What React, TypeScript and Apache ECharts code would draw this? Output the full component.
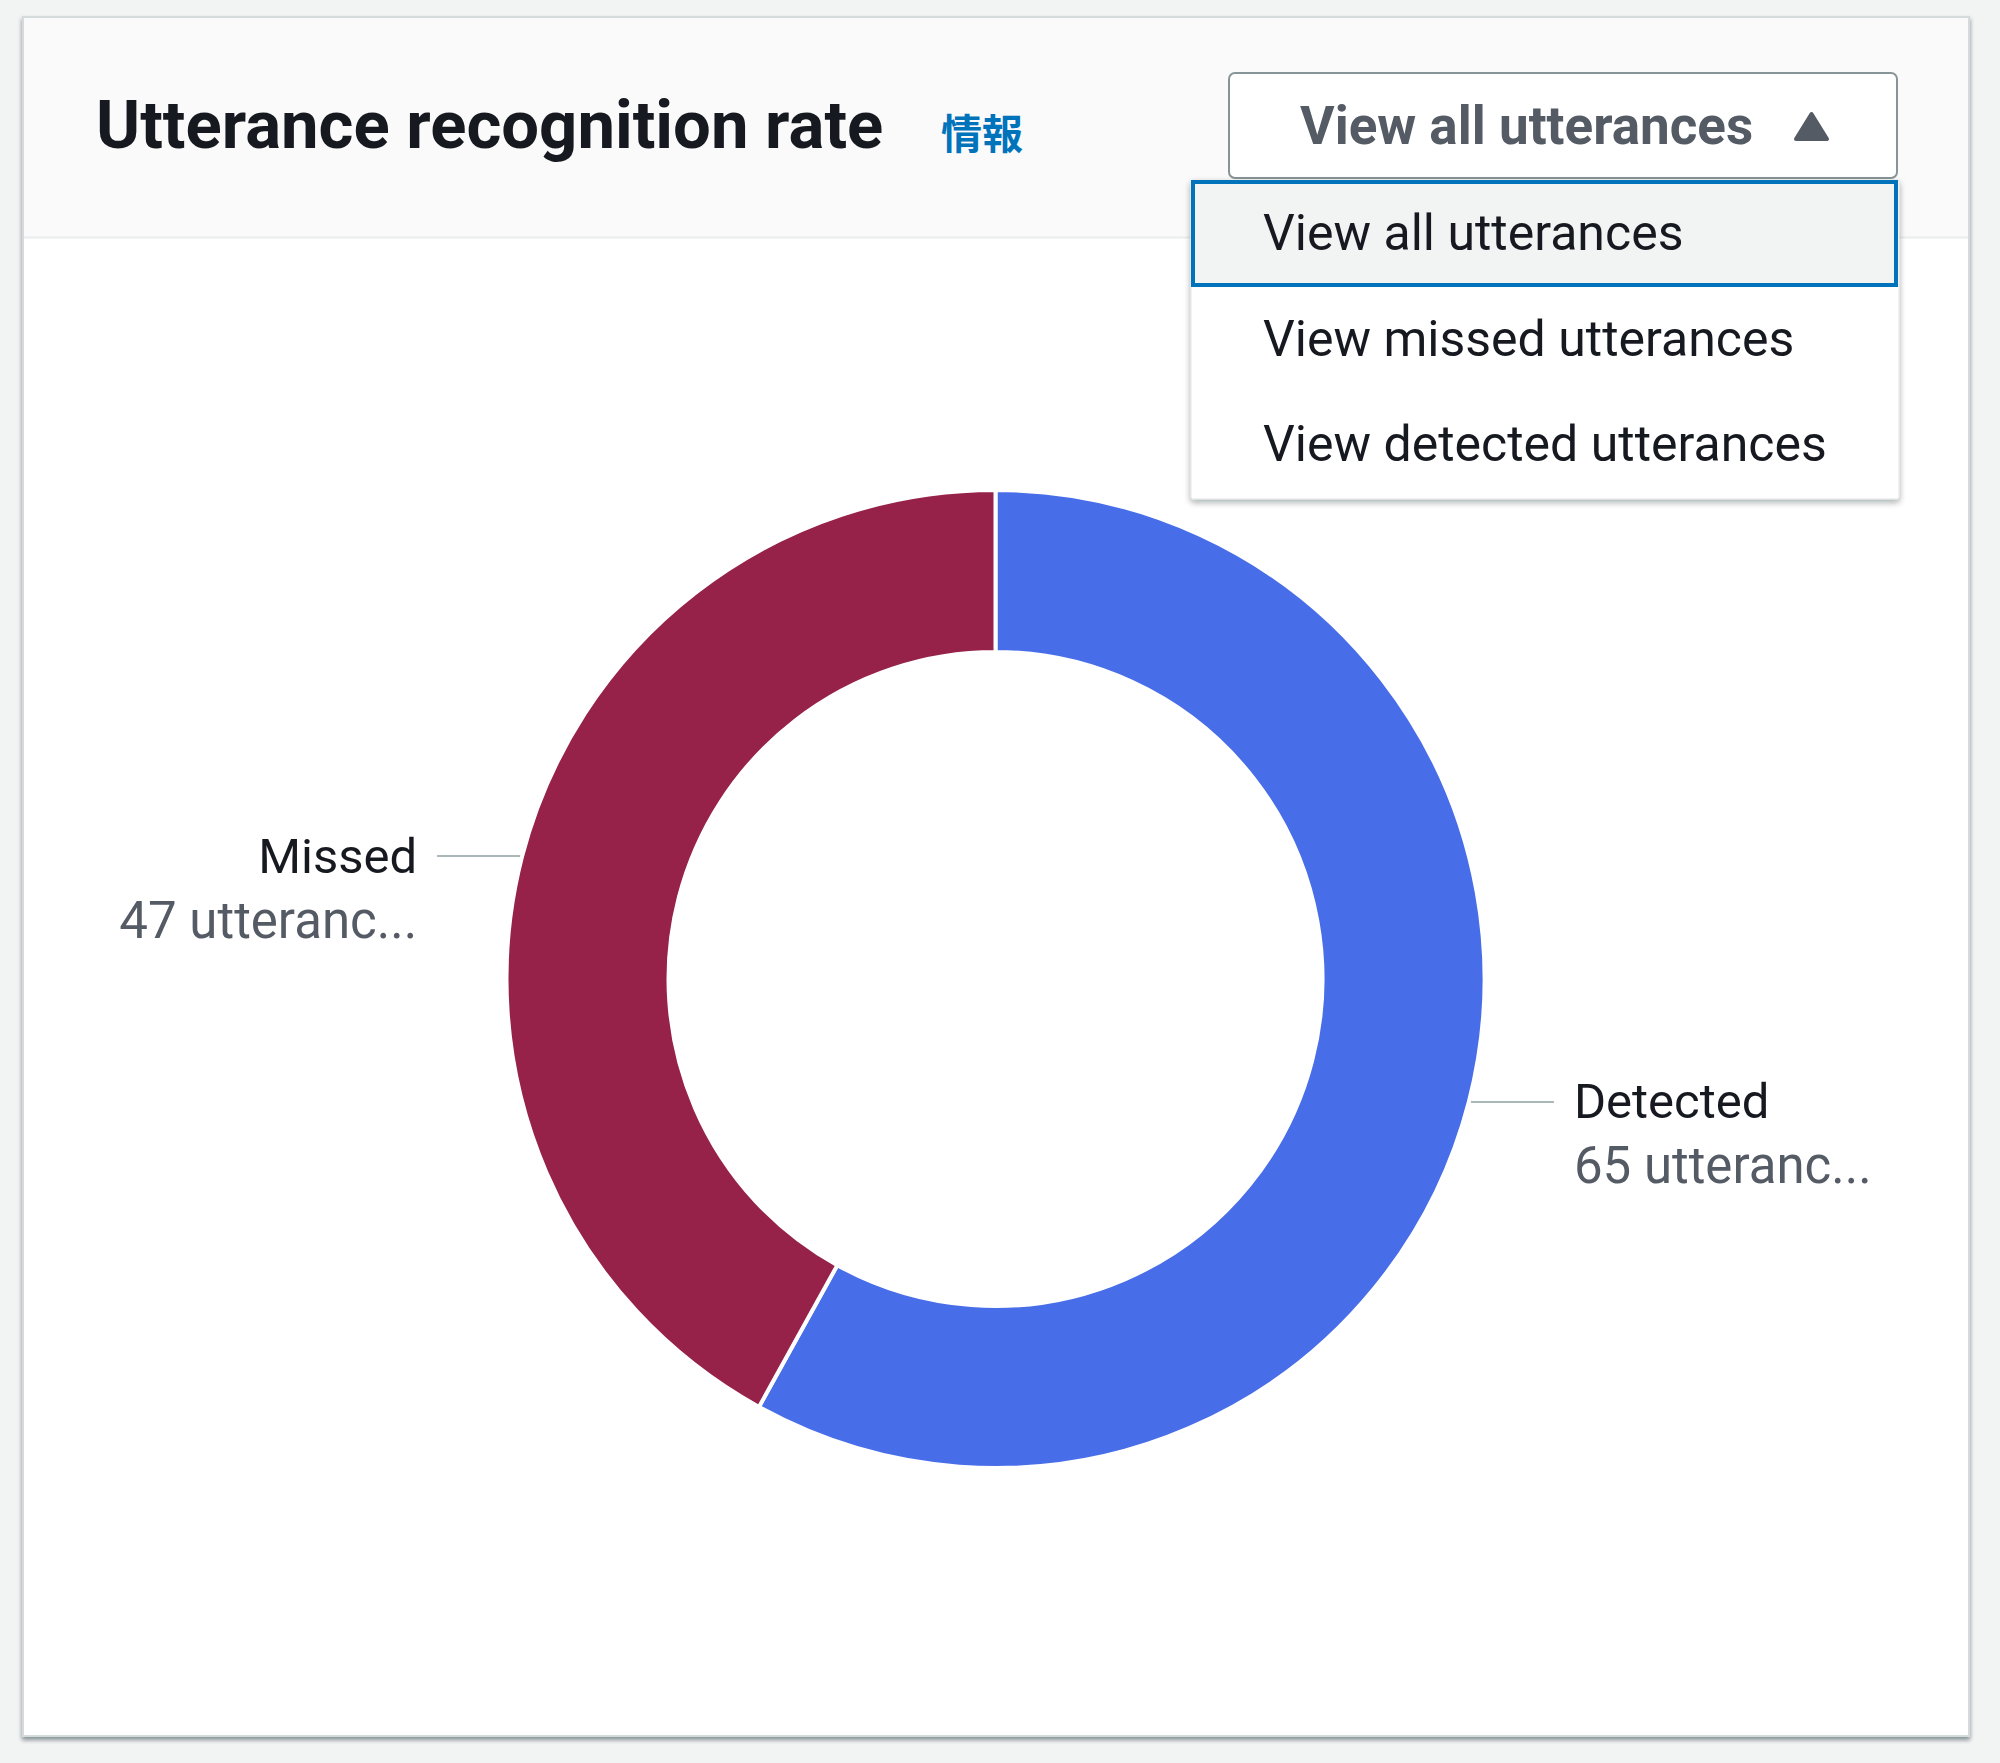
import React, { useEffect, useRef } from "react";
import * as echarts from "echarts";

// ---- data ----
const categories = ["Detected", "Missed"];
const values = [65, 47];
const seriesColors = ["#486de8", "#962249"];
const valueUnit = "utteranc...";
const titleText = "Utterance recognition rate";
const infoText = "情報";
const selectedText = "View all utterances";
const menuItems = ["View all utterances", "View missed utterances", "View detected utterances"];

const FONT = "Roboto, 'Noto Sans', sans-serif";

export default function App() {
  const ref = useRef<HTMLDivElement>(null);
  useEffect(() => {
    document.body.style.margin = "0";
    const chart = echarts.init(ref.current!, null, { renderer: "svg" });

    const menuTop = 180;
    const itemH = 105.5;
    const menuGraphics: any[] = [
      {
        type: "rect",
        z: 100,
        shape: { x: 1191, y: menuTop, width: 708, height: 319, r: 2 },
        style: {
          fill: "#ffffff",
          stroke: "#e3e6e6",
          lineWidth: 1,
          shadowBlur: 6,
          shadowOffsetY: 3,
          shadowColor: "rgba(0,28,36,0.35)",
        },
      },
      {
        type: "rect",
        z: 101,
        shape: { x: 1193, y: 182, width: 703, height: 103 },
        style: { fill: "#f2f3f3", stroke: "#0073bb", lineWidth: 4 },
      },
      ...menuItems.map((t, i) => ({
        type: "text",
        z: 102,
        x: 1263,
        y: 233 + i * itemH,
        style: {
          text: t,
          fontSize: 50,
          fontFamily: FONT,
          fill: "#16191f",
          textAlign: "left",
          textVerticalAlign: "middle",
          align: "left",
          verticalAlign: "middle",
        },
      })),
    ];

    const option: any = {
      animation: false,
      backgroundColor: "#f2f3f3",
      graphic: [
        {
          type: "rect",
          z: 0,
          shape: { x: 23, y: 17, width: 1946, height: 1719 },
          style: {
            fill: "#ffffff",
            stroke: "#d5dbdb",
            lineWidth: 2,
            shadowBlur: 4,
            shadowOffsetY: 3,
            shadowColor: "rgba(0,28,36,0.45)",
          },
        },
        {
          type: "rect",
          z: 1,
          shape: { x: 24, y: 18, width: 1944, height: 219 },
          style: { fill: "#fafafa" },
        },
        {
          type: "line",
          z: 1,
          shape: { x1: 24, y1: 237.5, x2: 1968, y2: 237.5 },
          style: { stroke: "#eaeded", lineWidth: 2 },
        },
        {
          type: "text",
          z: 2,
          x: 96,
          y: 125,
          style: {
            text: titleText,
            fontSize: 67,
            fontWeight: "bold",
            fontFamily: FONT,
            fill: "#16191f",
            textAlign: "left",
            textVerticalAlign: "middle",
            align: "left",
            verticalAlign: "middle",
          },
        },
        {
          type: "text",
          z: 2,
          x: 941,
          y: 131,
          style: {
            text: infoText,
            fontSize: 41,
            fontWeight: "bold",
            fontFamily: "'Noto Sans CJK JP', sans-serif",
            fill: "#0073bb",
            textAlign: "left",
            textVerticalAlign: "middle",
            align: "left",
            verticalAlign: "middle",
          },
        },
        {
          type: "rect",
          z: 3,
          shape: { x: 1229, y: 73, width: 668, height: 105, r: 6 },
          style: { fill: "#ffffff", stroke: "#879596", lineWidth: 2 },
        },
        {
          type: "text",
          z: 4,
          x: 1300,
          y: 126,
          style: {
            text: selectedText,
            fontSize: 53,
            fontWeight: "bold",
            fontFamily: FONT,
            fill: "#545b64",
            textAlign: "left",
            textVerticalAlign: "middle",
            align: "left",
            verticalAlign: "middle",
          },
        },
        {
          type: "polygon",
          z: 4,
          shape: { points: [[1796, 139], [1811.5, 114], [1827, 139]] },
          style: { fill: "#545b64", stroke: "#545b64", lineWidth: 4, lineJoin: "round" },
        },
        ...menuGraphics,
      ],
      series: [
        {
          type: "pie",
          center: [995.5, 979],
          radius: [327, 489],
          startAngle: 90,
          clockwise: true,
          avoidLabelOverlap: false,
          itemStyle: { borderColor: "#ffffff", borderWidth: 4 },
          label: {
            show: true,
            position: "outside",
            distanceToLabelLine: 20,
            padding: [64, 0, 0, 0],
            formatter: (p: any) => `{n|${p.name}}\n{v|${p.value} ${valueUnit}}`,
            rich: {
              n: { fontSize: 49, fontFamily: FONT, color: "#16191f", lineHeight: 64 },
              v: { fontSize: 51, fontFamily: FONT, color: "#545b64", lineHeight: 64 },
            },
          },
          labelLine: {
            show: true,
            length: 3,
            length2: 82,
            smooth: false,
            lineStyle: { color: "#aab7b8", width: 2 },
          },
          emphasis: { disabled: true },
          data: categories.map((c, i) => ({
            name: c,
            value: values[i],
            itemStyle: { color: seriesColors[i] },
          })),
        },
      ],
    };
    chart.setOption(option);
    return () => chart.dispose();
  }, []);
  return <div ref={ref} style={{ width: 2000, height: 1763 }} />;
}
